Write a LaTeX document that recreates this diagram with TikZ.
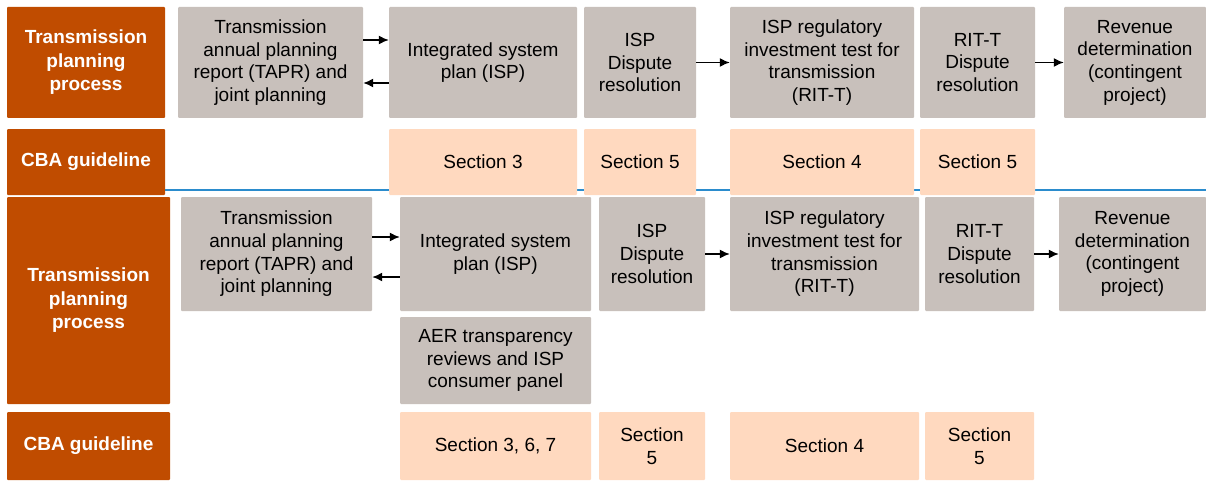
\documentclass[tikz,border=0pt]{standalone}
\usepackage{fontspec}
\setmainfont{Liberation Sans}
\usepackage{tikz}
\usetikzlibrary{arrows.meta}
\definecolor{procorange}{RGB}{192,76,0}
\definecolor{stepgrey}{RGB}{200,192,187}
\definecolor{sectpeach}{RGB}{255,217,191}
\definecolor{splitblue}{RGB}{43,140,205}

\begin{document}
\begin{tikzpicture}[x=1pt, y=-1pt,
    rowlabel/.style={fill=procorange, text=white, font=\fontsize{19}{23.5}\selectfont\bfseries, align=center, inner sep=0pt, rounded corners=1pt},
    stepbox/.style={fill=stepgrey, font=\fontsize{19}{22.7}\selectfont, align=center, inner sep=0pt, rounded corners=1pt},
    sectbox/.style={fill=sectpeach, font=\fontsize{19}{22.7}\selectfont, align=center, inner sep=0pt, rounded corners=1pt},
    flow/.style={-{Latex[length=10pt, width=9pt]}, line width=1.5pt}]
    \useasboundingbox (0,0) rectangle (1206,484);

    % upper block
    \node(L_1)[rowlabel, minimum width=158pt, minimum height=111pt] at (86,62.5) {Transmission\\planning\\process};
    \node(TAPR_1)[stepbox, minimum width=185pt, minimum height=111pt] at (270.5,62.5) {Transmission\\annual planning\\report (TAPR) and\\joint planning};
    \node(ISP_1)[stepbox, minimum width=188pt, minimum height=111pt] at (483,62.5) {Integrated system\\plan (ISP)};
    \node(D_1)[stepbox, minimum width=112pt, minimum height=111pt] at (640,62.5) {ISP\\Dispute\\resolution};
    \node(R_1)[stepbox, minimum width=184pt, minimum height=111pt] at (822,62.5) {ISP regulatory\\investment test for\\transmission\\(RIT-T)};
    \node(RD_1)[stepbox, minimum width=115pt, minimum height=111pt] at (977.5,62.5) {RIT-T\\Dispute\\resolution};
    \node(V_1)[stepbox, minimum width=142pt, minimum height=111pt] at (1135,62.5) {Revenue\\determination\\(contingent\\project)};
    \draw[flow] ([yshift=22.5pt]TAPR_1.east) -- ([yshift=22.5pt]ISP_1.west);
    \draw[flow] ([yshift=-20.5pt]ISP_1.west) -- ([yshift=-20.5pt]TAPR_1.east);
    \draw[flow] (D_1) -- (R_1);
    \draw[flow] (RD_1) -- (V_1);

    \node(C_1)[rowlabel, minimum width=158pt, minimum height=66pt] at (86,162) {CBA guideline};
    \coordinate(split) at (1206,190);
    \draw[splitblue, line width=2pt] (C_1.east |- split) -- (split);
    \node(S_1)[sectbox, minimum width=188pt, minimum height=66pt] at (483,162) {Section 3};
    \node(S_2)[sectbox, minimum width=112pt, minimum height=66pt] at (640,162) {Section 5};
    \node(S_3)[sectbox, minimum width=184pt, minimum height=66pt] at (822,162) {Section 4};
    \node(S_4)[sectbox, minimum width=115pt, minimum height=66pt] at (977.5,162) {Section 5};

    % lower block
    \node(L_2)[rowlabel, minimum width=163pt, minimum height=207pt] at (88.5,300.5) {Transmission\\planning\\process};
    \node(TAPR_2)[stepbox, minimum width=191pt, minimum height=114pt] at (276.5,254) {Transmission\\annual planning\\report (TAPR) and\\joint planning};
    \node(ISP_2)[stepbox, minimum width=191pt, minimum height=114pt] at (495.5,254) {Integrated system\\plan (ISP)};
    \node(D_2)[stepbox, minimum width=106pt, minimum height=114pt] at (652,254) {ISP\\Dispute\\resolution};
    \node(R_2)[stepbox, minimum width=189pt, minimum height=114pt] at (824.5,254) {ISP regulatory\\investment test for\\transmission\\(RIT-T)};
    \node(RD_2)[stepbox, minimum width=109pt, minimum height=114pt] at (979.5,254) {RIT-T\\Dispute\\resolution};
    \node(V_2)[stepbox, minimum width=147pt, minimum height=114pt] at (1132.5,254) {Revenue\\determination\\(contingent\\project)};
    \node(AER)[stepbox, minimum width=191pt, minimum height=87pt] at (495.5,360.5) {AER transparency\\reviews and ISP\\consumer panel};
    \draw[flow] ([yshift=17pt]TAPR_2.east) -- ([yshift=17pt]ISP_2.west);
    \draw[flow] ([yshift=-23pt]ISP_2.west) -- ([yshift=-23pt]TAPR_2.east);
    \draw[flow] (D_2) -- (R_2);
    \draw[flow] (RD_2) -- (V_2);

    \node(C_2)[rowlabel, minimum width=163pt, minimum height=68pt] at (88.5,446) {CBA guideline};
    \node(S_5)[sectbox, minimum width=191pt, minimum height=68pt] at (495.5,446) {Section 3, 6, 7};
    \node(S_6)[sectbox, minimum width=106pt, minimum height=68pt] at (652,446) {Section\\5};
    \node(S_7)[sectbox, minimum width=189pt, minimum height=68pt] at (824.5,446) {Section 4};
    \node(S_8)[sectbox, minimum width=109pt, minimum height=68pt] at (979.5,446) {Section\\5};
\end{tikzpicture}
\end{document}
